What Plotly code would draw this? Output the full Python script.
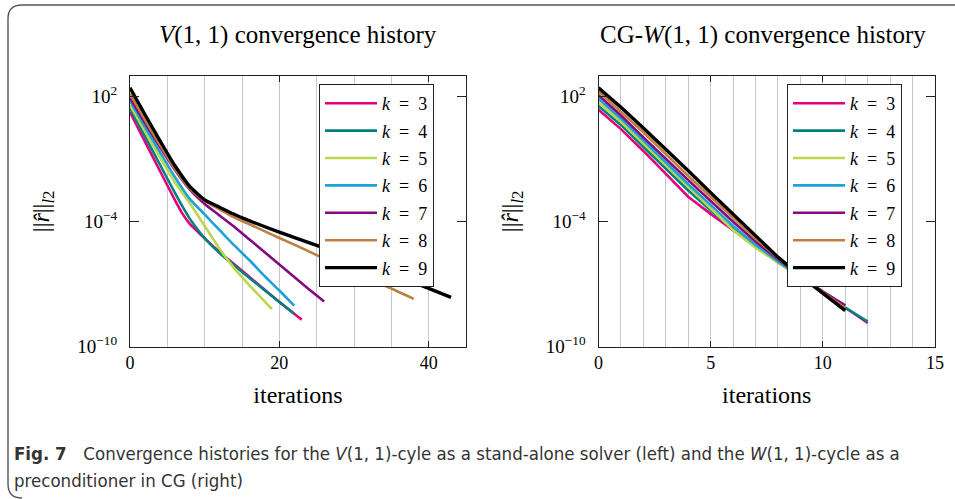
import numpy as np
import plotly.graph_objects as go

W, H = 955, 499
SERIF = "Liberation Serif, DejaVu Serif, serif"
SANS = "Liberation Sans Narrow, DejaVu Sans Condensed, sans-serif"

k_labels = ["3", "4", "5", "6", "7", "8", "9"]
colors = ["#E3007D", "#00807F", "#BCD84A", "#1DA2D8", "#830A80", "#BF7F40", "#000000"]
widths = [2.6, 2.6, 2.6, 2.6, 2.6, 2.6, 3.4]

# ---- Left panel: V(1,1) stand-alone solver, log10 of residual norm ----
v_it_k3 = [0, 2, 4, 6, 7, 8, 9, 10, 12, 16, 20, 23]
v_lg_k3 = [1.26, -0.15, -1.55, -2.95, -3.6, -4.1, -4.45, -4.8, -5.45, -6.65, -7.85, -8.7]
v_it_k4 = [0, 2, 4, 6, 7, 8, 9, 10, 12, 16, 20, 22]
v_lg_k4 = [1.45, 0.1, -1.25, -2.6, -3.25, -3.85, -4.35, -4.8, -5.5, -6.7, -7.85, -8.42]
v_it_k5 = [0, 2, 4, 6, 8, 10, 12, 14, 16, 19]
v_lg_k5 = [1.6, 0.35, -0.9, -2.1, -3.1, -4.2, -5.3, -6.25, -7.05, -8.19]
v_it_k6 = [0, 2, 4, 6, 8, 10, 12, 14, 16, 18, 20, 22]
v_lg_k6 = [1.8, 0.55, -0.65, -1.85, -2.9, -3.65, -4.4, -5.15, -5.85, -6.6, -7.3, -8.03]
v_it_k7 = [0, 2, 4, 6, 8, 10, 12, 14, 16, 18, 20, 22, 24, 26]
v_lg_k7 = [1.95, 0.75, -0.4, -1.5, -2.45, -3.15, -3.7, -4.25, -4.85, -5.45, -6.05, -6.65, -7.25, -7.83]
v_it_k8 = [0, 2, 4, 6, 8, 10, 12, 14, 16, 18, 20, 22, 25, 28, 31, 34, 38]
v_lg_k8 = [2.15, 0.9, -0.3, -1.45, -2.4, -3.0, -3.4, -3.8, -4.12, -4.45, -4.78, -5.1, -5.6, -6.1, -6.6, -7.05, -7.7]
v_it_k9 = [0, 2, 4, 6, 8, 10, 12, 14, 16, 20, 25, 30, 35, 40, 43]
v_lg_k9 = [2.43, 1.15, -0.1, -1.3, -2.3, -2.95, -3.3, -3.65, -3.95, -4.5, -5.13, -5.8, -6.5, -7.2, -7.63]

# ---- Right panel: CG preconditioned with W(1,1), log10 of residual norm ----
w_it_k3 = [0, 1, 2, 3, 4, 5, 6, 7, 8, 9, 10, 11, 12]
w_lg_k3 = [1.38, 0.45, -0.6, -1.7, -2.8, -3.62, -4.4, -5.2, -5.95, -6.65, -7.4, -8.15, -8.86]
w_it_k4 = [0, 1, 2, 3, 4, 5, 6, 7, 8, 9, 10, 11, 12]
w_lg_k4 = [1.56, 0.65, -0.4, -1.45, -2.5, -3.45, -4.35, -5.15, -5.9, -6.65, -7.4, -8.12, -8.8]
w_it_k5 = [0, 1, 2, 3, 4, 5, 6, 7, 8, 9, 10, 11]
w_lg_k5 = [1.73, 0.8, -0.25, -1.3, -2.35, -3.4, -4.4, -5.25, -5.95, -6.65, -7.35, -8.05]
w_it_k6 = [0, 1, 2, 3, 4, 5, 6, 7, 8, 9, 10, 11]
w_lg_k6 = [1.91, 0.95, -0.1, -1.15, -2.2, -3.2, -4.2, -5.1, -5.9, -6.65, -7.4, -8.1]
w_it_k7 = [0, 1, 2, 3, 4, 5, 6, 7, 8, 9, 10, 11]
w_lg_k7 = [2.08, 1.1, 0.05, -1.0, -2.0, -3.0, -4.0, -4.95, -5.8, -6.6, -7.35, -8.02]
w_it_k8 = [0, 1, 2, 3, 4, 5, 6, 7, 8, 9, 10, 11]
w_lg_k8 = [2.26, 1.3, 0.3, -0.75, -1.8, -2.8, -3.8, -4.8, -5.75, -6.6, -7.4, -8.15]
w_it_k9 = [0, 1, 2, 3, 4, 5, 6, 7, 8, 9, 10, 11]
w_lg_k9 = [2.43, 1.5, 0.5, -0.5, -1.55, -2.6, -3.65, -4.7, -5.7, -6.6, -7.45, -8.27]

v_its = [v_it_k3, v_it_k4, v_it_k5, v_it_k6, v_it_k7, v_it_k8, v_it_k9]
v_lgs = [v_lg_k3, v_lg_k4, v_lg_k5, v_lg_k6, v_lg_k7, v_lg_k8, v_lg_k9]
w_its = [w_it_k3, w_it_k4, w_it_k5, w_it_k6, w_it_k7, w_it_k8, w_it_k9]
w_lgs = [w_lg_k3, w_lg_k4, w_lg_k5, w_lg_k6, w_lg_k7, w_lg_k8, w_lg_k9]

titles = ["<i>V</i>(1, 1) convergence history", "CG-<i>W</i>(1, 1) convergence history"]
ytick_vals = [1e2, 1e-4, 1e-10]
ytick_text = ["10<sup>2</sup>", "10<sup>\u22124</sup>", "10<sup>\u221210</sup>"]
y_title = "||<i>r\u0302</i>||<sub><i>l</i>2</sub>"
x_title = "iterations"
caption1 = "<b>Fig. 7</b>\u2003Convergence histories for the <i>V</i>(1, 1)-cyle as a stand-alone solver (left) and the <i>W</i>(1, 1)-cycle as a"
caption2 = "preconditioner in CG (right)"


def px(x):
    return x / W


def py(y):
    return 1 - y / H


fig = go.Figure()

for i, k in enumerate(k_labels):
    fig.add_trace(go.Scatter(
        x=v_its[i], y=10 ** np.array(v_lgs[i]), mode="lines",
        line=dict(color=colors[i], width=widths[i], shape="spline", smoothing=0.6),
        name="<i>k</i>\u2002=\u2002" + k, legend="legend", legendgroup="L" + k,
        xaxis="x", yaxis="y"))
for i, k in enumerate(k_labels):
    fig.add_trace(go.Scatter(
        x=w_its[i], y=10 ** np.array(w_lgs[i]), mode="lines",
        line=dict(color=colors[i], width=widths[i]),
        name="<i>k</i>\u2002=\u2002" + k, legend="legend2", legendgroup="R" + k,
        xaxis="x2", yaxis="y2"))

ax_dom_y = [py(346.7), py(76)]
common_x = dict(showline=True, linecolor="#222", linewidth=1.2, mirror="allticks",
                ticks="inside", ticklen=6, tickcolor="#222", showgrid=True,
                gridcolor="#c8c8c8", gridwidth=1, zeroline=False,
                tickfont=dict(family=SERIF, size=18, color="black"),
                ticklabelstandoff=0, automargin=False,
                title=dict(text=x_title, standoff=13, font=dict(family=SERIF, size=24, color="black")))
common_y = dict(type="log", range=[-10, 3], showline=True, linecolor="#222", linewidth=1.2,
                mirror="allticks", ticks="inside", ticklen=9, tickcolor="#222",
                showgrid=False, zeroline=False, tickmode="array",
                tickvals=ytick_vals, ticktext=ytick_text,
                tickfont=dict(family=SERIF, size=19, color="black"),
                ticklabelstandoff=8, automargin=False,
                title=dict(text=y_title, standoff=20, font=dict(family=SERIF, size=24, color="black")))

legend_common = dict(xanchor="left", yanchor="top", bgcolor="white",
                     bordercolor="#222", borderwidth=1, tracegroupgap=1, itemwidth=52,
                     font=dict(family=SERIF, size=18, color="black"))

fig.update_layout(
    width=W, height=H, margin=dict(l=0, r=0, t=0, b=0),
    paper_bgcolor="white", plot_bgcolor="white",
    xaxis=dict(domain=[px(130), px(466)], range=[0, 45], tickmode="linear", tick0=0, dtick=20,
               minor=dict(dtick=5, showgrid=True, gridcolor="#c8c8c8", gridwidth=1, ticks=""),
               anchor="y", **common_x),
    yaxis=dict(domain=ax_dom_y, anchor="x", **common_y),
    xaxis2=dict(domain=[px(598.5), px(935)], range=[0, 15], tickmode="linear", tick0=0, dtick=5,
                minor=dict(dtick=1, showgrid=True, gridcolor="#c8c8c8", gridwidth=1, ticks=""),
                anchor="y2", **common_x),
    yaxis2=dict(domain=ax_dom_y, anchor="x2", **common_y),
    legend=dict(x=px(319), y=py(84), **legend_common),
    legend2=dict(x=px(787), y=py(84), **legend_common),
    showlegend=True,
)

ann = []
for cx, t in [(298, titles[0]), (763, titles[1])]:
    ann.append(dict(x=px(cx), y=py(35), xref="paper", yref="paper", text=t, showarrow=False,
                    xanchor="center", yanchor="middle", font=dict(family=SERIF, size=25, color="black")))
ann.append(dict(x=px(12), y=py(453), xref="paper", yref="paper", text=caption1, showarrow=False,
                xanchor="left", yanchor="middle", font=dict(family=SANS, size=18.5, color="#333")))
ann.append(dict(x=px(12), y=py(480), xref="paper", yref="paper", text=caption2, showarrow=False,
                xanchor="left", yanchor="middle", font=dict(family=SANS, size=18.5, color="#333")))
fig.update_layout(annotations=ann)

frame = (f"M {px(22)},{py(498)} Q {px(8)},{py(498)} {px(8)},{py(484)} "
         f"L {px(8)},{py(19)} Q {px(8)},{py(5)} {px(22)},{py(5)} L {px(970)},{py(5)}")
fig.add_shape(type="path", path=frame, xref="paper", yref="paper",
              line=dict(color="#555", width=1.4))

fig.write_html("out.html")
